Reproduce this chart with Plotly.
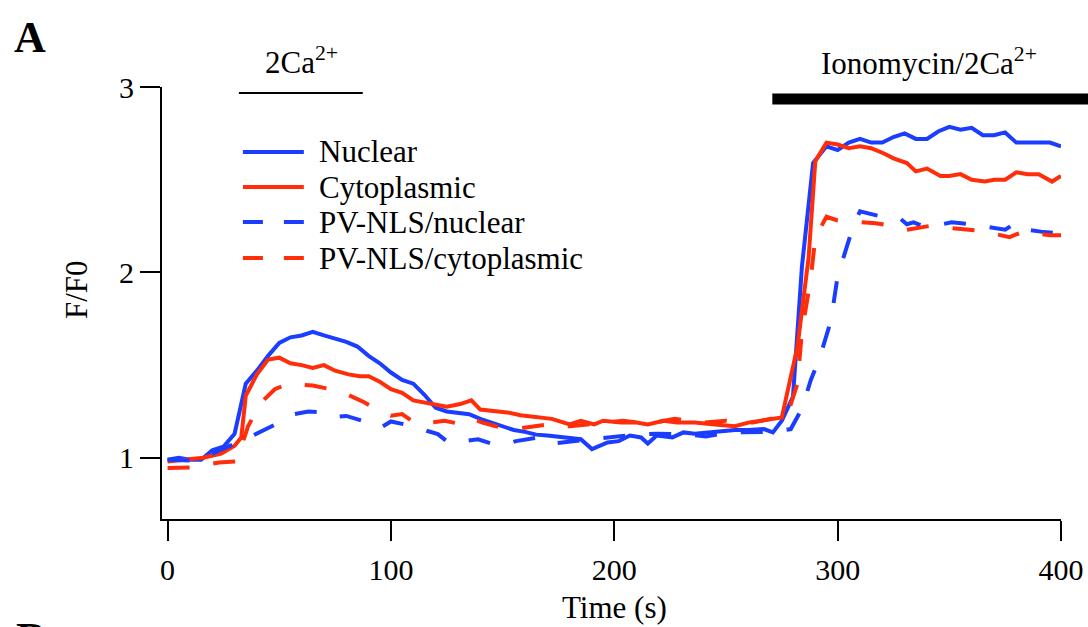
import plotly.graph_objects as go

# ---- data ----
t_nuc = [0, 5, 10, 15, 20, 25, 30, 35, 40, 45, 50, 55, 60, 65, 70, 75, 80, 85, 90, 95,
         100, 105, 110, 115, 120, 125, 130, 135, 140, 145, 150, 155, 160, 165, 170, 176,
         185, 190, 197, 202, 207, 212, 215, 219, 226, 231, 236, 242, 248, 254, 260, 267,
         271, 275, 280, 284, 289, 295, 300, 305, 310, 315, 320, 325, 330, 335, 340, 345,
         350, 355, 360, 365, 370, 375, 380, 385, 390, 395, 400]
nuclear = [0.99, 1.00, 0.99, 0.99, 1.04, 1.06, 1.13, 1.40, 1.47, 1.55, 1.62, 1.65, 1.66,
           1.68, 1.66, 1.645, 1.625, 1.60, 1.55, 1.51, 1.46, 1.42, 1.40, 1.34, 1.27, 1.25,
           1.24, 1.235, 1.21, 1.19, 1.17, 1.15, 1.14, 1.125, 1.12, 1.11, 1.10, 1.047, 1.083,
           1.09, 1.12, 1.11, 1.077, 1.12, 1.11, 1.137, 1.13, 1.137, 1.146, 1.15, 1.15, 1.155,
           1.137, 1.20, 1.33, 2.03, 2.59, 2.68, 2.66, 2.70, 2.72, 2.70, 2.70, 2.73, 2.75,
           2.72, 2.72, 2.76, 2.785, 2.77, 2.78, 2.74, 2.74, 2.755, 2.70, 2.70, 2.70, 2.70, 2.68]

t_cyt = [0, 10, 16, 24, 30, 33, 35, 40, 45, 50, 55, 60, 65, 70, 75, 81, 86, 90, 95, 100,
         105, 110, 115, 120, 125, 131, 136, 140, 146, 152, 158, 166, 172, 180, 185, 191,
         195, 203, 210, 215, 222, 228, 236, 245, 254, 260, 266, 275, 282, 287, 290, 295,
         300, 305, 310, 315, 321, 325, 331, 335, 340, 346, 350, 355, 360, 366, 370, 375,
         380, 385, 390, 396, 400]
cytoplasmic = [0.98, 0.99, 1.00, 1.023, 1.065, 1.11, 1.335, 1.45, 1.53, 1.54, 1.51, 1.50,
               1.485, 1.50, 1.47, 1.45, 1.44, 1.44, 1.41, 1.37, 1.35, 1.31, 1.30, 1.29,
               1.275, 1.29, 1.31, 1.26, 1.255, 1.245, 1.23, 1.218, 1.21, 1.18, 1.20, 1.18,
               1.20, 1.19, 1.19, 1.18, 1.20, 1.19, 1.19, 1.18, 1.17, 1.19, 1.20, 1.218,
               1.60, 2.08, 2.60, 2.70, 2.69, 2.67, 2.68, 2.67, 2.64, 2.615, 2.59, 2.545,
               2.56, 2.52, 2.52, 2.53, 2.50, 2.49, 2.50, 2.50, 2.54, 2.53, 2.53, 2.49, 2.52]

t_pvn = [0, 10, 15, 23, 33, 40, 46, 50, 57, 63, 70, 75, 80, 87, 93, 95, 100, 104, 110,
         116, 121, 126, 133, 139, 145, 150, 156, 163, 166, 172, 178, 185, 190, 197, 203,
         209, 219, 225, 232, 241, 248, 255, 265, 272, 279, 284, 288, 292, 296, 298, 300,
         303, 307, 310, 314, 320, 328, 331, 334, 338, 345, 351, 360, 367, 375, 380, 385,
         391, 398, 400]
pv_nuclear = [0.99, 0.985, 0.99, 1.04, 1.09, 1.13, 1.17, 1.19, 1.236, 1.25, 1.245, 1.22,
              1.226, 1.20, 1.17, 1.16, 1.196, 1.185, 1.17, 1.146, 1.128, 1.08, 1.09, 1.10,
              1.077, 1.07, 1.09, 1.106, 1.11, 1.077, 1.085, 1.095, 1.10, 1.11, 1.115, 1.125,
              1.13, 1.13, 1.128, 1.115, 1.13, 1.137, 1.136, 1.14, 1.155, 1.265, 1.42, 1.54,
              1.70, 1.82, 1.98, 2.10, 2.25, 2.33, 2.32, 2.30, 2.29, 2.26, 2.27, 2.25, 2.255,
              2.27, 2.26, 2.245, 2.23, 2.27, 2.23, 2.22, 2.21, 2.21]

t_pvc = [0, 10, 23, 31, 32, 36, 42, 48, 54, 65, 77, 83, 88, 95, 100, 105, 111, 118, 124,
         130, 135, 141, 147, 158, 165, 170, 180, 187, 194, 204, 211, 218, 227, 233, 240,
         250, 256, 262, 274, 278, 282, 284, 288, 290, 295, 300, 309, 317, 325, 331, 341,
         348, 354, 364, 370, 377, 383, 388, 395, 400]
pv_cytoplasmic = [0.945, 0.948, 0.975, 0.98, 1.02, 1.17, 1.30, 1.37, 1.40, 1.39, 1.36,
                  1.33, 1.30, 1.25, 1.227, 1.236, 1.185, 1.19, 1.20, 1.185, 1.215, 1.19,
                  1.17, 1.16, 1.17, 1.18, 1.17, 1.18, 1.19, 1.20, 1.19, 1.19, 1.21, 1.20,
                  1.19, 1.20, 1.19, 1.19, 1.22, 1.25, 1.40, 1.68, 1.97, 2.19, 2.30, 2.28,
                  2.27, 2.265, 2.25, 2.23, 2.25, 2.24, 2.235, 2.225, 2.21, 2.19, 2.22, 2.21,
                  2.20, 2.20]

series_names = ["Nuclear", "Cytoplasmic", "PV-NLS/nuclear", "PV-NLS/cytoplasmic"]
x_ticks = [0, 100, 200, 300, 400]
y_ticks = [1, 2, 3]

BLUE = "#1a3dff"
RED = "#ff2d0a"
FONT = "Liberation Serif"
DASH = "22px,24px"
LW = 4

styles = [
    (BLUE, "solid"),
    (RED, "solid"),
    (BLUE, DASH),
    (RED, DASH),
]
data = [(t_nuc, nuclear), (t_cyt, cytoplasmic), (t_pvn, pv_nuclear), (t_pvc, pv_cytoplasmic)]

fig = go.Figure()
for name, (tx, ty), (col, dsh) in zip(series_names, data, styles):
    fig.add_trace(go.Scatter(x=tx, y=ty, mode="lines", name=name, showlegend=False,
                             line=dict(color=col, width=LW, dash=dsh)))

# page geometry (horizontal positions given in target pixels, scaled by KX)
KX = 1096 / 1088
FW, FH = 1096, 627
L, W, T, H = 161 * KX, 900 * KX, 87, 432
def px(x):
    return (x * KX - L) / W
def py(y):
    return (T + H - y) / H

fig.update_layout(
    width=FW, height=FH,
    margin=dict(l=L, r=FW - L - W, t=T, b=FH - T - H),
    paper_bgcolor="white", plot_bgcolor="white",
    font=dict(family=FONT, size=30, color="black"),
    showlegend=False,
    xaxis=dict(range=[-2.5, 400], tickvals=x_ticks, ticks="outside", ticklen=20,
               tickwidth=2, tickcolor="black", showline=True, linewidth=2,
               linecolor="black", showgrid=False, zeroline=False, ticklabelstandoff=3,
               tickfont=dict(family=FONT, size=30)),
    yaxis=dict(range=[0.67, 3], tickvals=y_ticks, ticks="outside", ticklen=20,
               tickwidth=2, tickcolor="black", showline=True, linewidth=2,
               linecolor="black", showgrid=False, zeroline=False,
               tickfont=dict(family=FONT, size=30)),
)

# legend drawn as key lines + labels
legend_rows = [152, 187, 222, 258]
for name, (col, dsh), ry in zip(series_names, styles, legend_rows):
    fig.add_shape(type="line", xref="paper", yref="paper",
                  x0=px(242), x1=px(303), y0=py(ry), y1=py(ry),
                  line=dict(color=col, width=LW, dash="solid" if dsh == "solid" else "20px,21px"))
    fig.add_annotation(text=name, xref="paper", yref="paper", showarrow=False,
                       x=px(316), y=py(ry), xanchor="left", yanchor="middle",
                       font=dict(family=FONT, size=31, color="black"))

# stimulus bars
fig.add_shape(type="line", xref="paper", yref="paper",
              x0=px(238), x1=px(362), y0=py(93), y1=py(93),
              line=dict(color="black", width=2))
fig.add_shape(type="rect", xref="paper", yref="paper",
              x0=px(772), x1=px(1090), y0=py(104.5), y1=py(93.5),
              fillcolor="black", line=dict(width=0))

ann = [
    dict(text="2Ca<sup>2+</sup>", x=px(301), y=py(60)),
    dict(text="Ionomycin/2Ca<sup>2+</sup>", x=px(929), y=py(62)),
    dict(text="F/F0", x=px(75), y=py(290), textangle=-90),
    dict(text="Time (s)", x=px(614), y=py(607)),
]
for a in ann:
    fig.add_annotation(xref="paper", yref="paper", showarrow=False,
                       xanchor="center", yanchor="middle",
                       font=dict(family=FONT, size=31, color="black"), **a)
fig.add_annotation(text="<b>A</b>", xref="paper", yref="paper", showarrow=False,
                   x=px(29), y=py(37), xanchor="center", yanchor="middle",
                   font=dict(family=FONT, size=44, color="black"))
fig.add_annotation(text="<b>B</b>", xref="paper", yref="paper", showarrow=False,
                   x=px(29), y=py(612), xanchor="center", yanchor="top",
                   font=dict(family=FONT, size=44, color="black"))

fig.write_html(
    "out.html",
    post_script="document.body.style.margin='0';document.body.style.overflow='hidden';"
                "document.documentElement.style.overflow='hidden';",
)
